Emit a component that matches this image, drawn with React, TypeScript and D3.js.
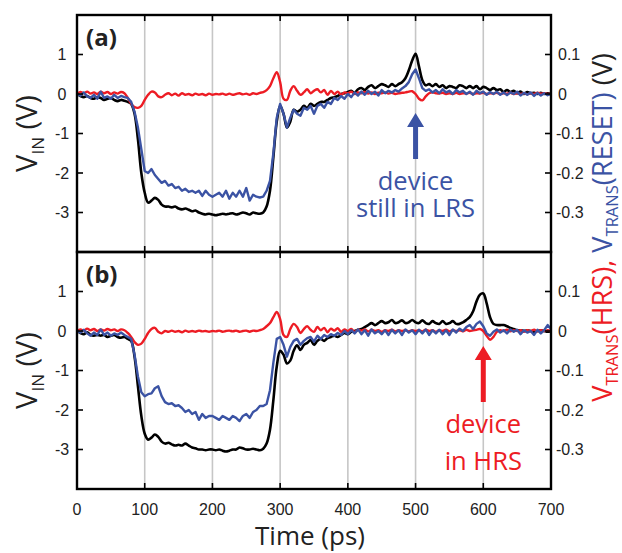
import React, { useLayoutEffect, useRef, useState } from "react";
import * as d3 from "d3";

// sampling grid (ps)
const TIME = d3.range(0, 705, 5);

// Panel (a): V_IN (V, left axis), V_TRANS(HRS) & V_TRANS(RESET) (V, right axis)
const A_VIN = [
  0, -0.05, -0.08, -0.05, -0.1, -0.12, -0.08, -0.1, -0.15, -0.12,
  -0.1, -0.15, -0.18, -0.15, -0.17, -0.2, -0.25, -0.5, -1.15, -2.0,
  -2.5, -2.75, -2.7, -2.63, -2.68, -2.8, -2.85, -2.85, -2.87, -2.85,
  -2.9, -2.92, -2.9, -2.93, -2.97, -2.95, -3.0, -3.03, -3.05, -3.03,
  -3.05, -3.07, -3.05, -3.03, -3.05, -3.03, -3.02, -3.05, -3.03, -3.0,
  -3.02, -3.05, -3.0, -3.02, -3.03, -3.0, -2.85, -2.45, -1.6, -0.7,
  -0.3, -0.5, -0.85, -0.7, -0.4, -0.45, -0.4, -0.3, -0.35, -0.25,
  -0.3, -0.25, -0.2, -0.2, -0.15, -0.1, -0.08, -0.05, 0.0, 0.02,
  0.05, 0.08, 0.03, 0.12, 0.15, 0.1, 0.18, 0.22, 0.15, 0.2,
  0.25, 0.22, 0.18, 0.25, 0.2, 0.25, 0.3, 0.4, 0.6, 0.85,
  1.02, 0.7, 0.35, 0.22, 0.25, 0.2, 0.25, 0.18, 0.22, 0.15,
  0.2, 0.18, 0.15, 0.22, 0.2, 0.15, 0.2, 0.15, 0.2, 0.12,
  0.18, 0.15, 0.1, 0.15, 0.1, 0.12, 0.05, 0.1, 0.05, 0.08,
  0.02, 0.06, 0.0, 0.05, 0.02, 0.03, 0.0, 0.03, 0.0, 0.02,
  0.0,
];
const A_HRS = [
  0, 0.005, 0.002, 0.006, 0.001, 0.004, 0, 0.006, 0.002, 0.005,
  0, 0.004, 0.001, 0.005, 0.002, -0.01, -0.025, -0.033, -0.035, -0.03,
  -0.015, -0.002, 0.006, 0.004, -0.006, -0.008, -0.002, 0.002, -0.003, 0.001,
  -0.004, 0.002, -0.002, 0, -0.003, 0.001, -0.002, 0, -0.003, 0.001,
  -0.002, 0, -0.001, 0.001, -0.002, 0.001, -0.002, 0, 0.002, -0.001,
  0.001, -0.002, 0.002, 0, 0.003, 0.005, 0.01, 0.02, 0.04, 0.055,
  0.03, -0.012, -0.015, 0.008, 0.02, 0.008, -0.002, 0.004, 0.012, 0.002,
  0.008, 0.012, 0.004, 0.01, -0.002, 0.008, 0, 0.006, -0.002, 0.004,
  0.002, 0.006, 0, 0.004, 0.002, 0.005, 0.001, 0.004, 0, 0.003,
  0.002, 0.004, 0.001, 0.003, 0, 0.002, 0.003, 0.004, 0.006, 0.007,
  0, -0.012, -0.016, -0.006, 0.002, 0.004, 0.002, 0.001, 0.003, 0,
  0.002, 0, 0.003, 0, 0.002, 0.001, 0.003, 0, 0.002, 0.001,
  0.003, 0, 0.002, 0.001, 0.003, 0, 0.002, 0.001, 0.003, 0,
  0.002, 0, 0.002, -0.001, 0.002, 0, 0.003, 0.001, 0.002, 0,
  0.001,
];
const A_RESET = [
  0, -0.004, 0.004, -0.006, -0.01, -0.002, -0.012, 0.006, -0.01, -0.006,
  -0.012, -0.002, -0.01, -0.005, -0.008, -0.01, -0.02, -0.045, -0.085, -0.14,
  -0.195, -0.2, -0.19, -0.205, -0.215, -0.225, -0.22, -0.232, -0.228, -0.238,
  -0.235, -0.245, -0.24, -0.248, -0.245, -0.25, -0.245, -0.258, -0.245, -0.255,
  -0.26, -0.255, -0.25, -0.26, -0.245, -0.265, -0.25, -0.26, -0.245, -0.26,
  -0.238, -0.27, -0.255, -0.26, -0.262, -0.26, -0.245, -0.22, -0.15, -0.06,
  -0.025, -0.05, -0.085, -0.06, -0.04, -0.05, -0.055, -0.035, -0.04, -0.03,
  -0.05, -0.03, -0.025, -0.035, -0.02, -0.025, -0.01, -0.015, -0.005, -0.012,
  0, -0.008, 0.004, -0.004, 0.006, -0.002, 0.008, 0, 0.006, -0.004,
  0.01, 0.002, 0.008, 0.004, 0.01, 0.006, 0.014, 0.02, 0.03, 0.05,
  0.062, 0.04, 0.015, 0.008, 0.012, 0.004, 0.01, 0.002, 0.012, 0.004,
  0.008, 0, 0.01, 0.004, 0.008, 0, 0.006, -0.002, 0.008, 0.002,
  0.006, -0.002, 0.005, 0, 0.006, -0.002, 0.004, -0.003, 0.004, 0,
  0.006, -0.004, 0.003, -0.002, 0.004, -0.005, 0.003, -0.004, 0.002, -0.003,
  0,
];

// Panel (b)
const B_VIN = [
  0, -0.05, -0.08, -0.03, -0.1, -0.12, -0.1, -0.12, -0.1, -0.15,
  -0.12, -0.1, -0.15, -0.17, -0.15, -0.2, -0.25, -0.65, -1.4, -2.15,
  -2.6, -2.75, -2.7, -2.62, -2.68, -2.8, -2.85, -2.83, -2.87, -2.9,
  -2.88, -2.9, -2.85, -2.9, -2.95, -2.97, -3.0, -3.0, -3.02, -3.0,
  -3.0, -3.02, -3.0, -3.03, -3.05, -3.03, -3.0, -3.0, -2.95, -2.97,
  -3.0, -3.0, -2.98, -3.0, -3.02, -2.98, -2.85, -2.5, -1.75, -0.9,
  -0.5, -0.6, -0.82, -0.75, -0.5, -0.36, -0.48, -0.35, -0.3, -0.23,
  -0.35, -0.25, -0.2, -0.25, -0.18, -0.15, -0.12, -0.15, -0.1, -0.05,
  -0.08, -0.02, 0, 0.03, 0.05, 0.1, 0.15, 0.2, 0.15, 0.2,
  0.25, 0.2, 0.22, 0.28, 0.2, 0.22, 0.27, 0.2, 0.22, 0.28,
  0.22, 0.2, 0.27, 0.2, 0.18, 0.25, 0.2, 0.18, 0.25, 0.18,
  0.2, 0.25, 0.18, 0.18, 0.22, 0.28, 0.35, 0.5, 0.75, 0.92,
  0.95, 0.7, 0.35, 0.18, 0.15, 0.15, 0.15, 0.12, 0.08, 0.05,
  0.02, 0.02, 0, 0.02, 0, -0.02, 0, 0.02, 0, -0.02,
  0,
];
const B_HRS = [
  0, 0.004, 0.001, 0.006, 0.002, 0.005, 0, 0.004, 0.001, 0.005,
  0.002, 0.004, 0, 0.004, 0.002, -0.005, -0.015, -0.028, -0.035, -0.032,
  -0.02, -0.005, 0.005, 0.008, -0.002, -0.006, 0, -0.002, 0.001, -0.002,
  0, -0.003, 0.001, -0.002, 0, -0.002, 0.001, -0.001, 0, -0.002,
  0, -0.001, 0.001, -0.002, 0, 0.001, -0.001, 0.001, -0.002, 0,
  0.001, -0.002, 0.001, 0, 0.002, 0.005, 0.012, 0.02, 0.035, 0.048,
  0.03, -0.01, -0.015, 0.005, 0.018, 0.01, -0.005, 0.005, 0.012, 0.003,
  -0.002, 0.01, 0.002, 0.008, -0.003, 0.006, 0.001, 0.007, -0.002, 0.004,
  0, 0.005, -0.002, 0.003, 0.001, 0.004, -0.001, 0.003, 0, 0.002,
  -0.002, 0.002, 0, 0.003, -0.001, 0.002, 0, 0.002, -0.001, 0.002,
  0, 0.002, -0.001, 0.003, 0, 0.002, -0.002, 0.002, 0, 0.003,
  -0.001, 0.002, 0, 0.002, -0.001, 0.003, 0, 0.002, 0.003, 0.005,
  0, -0.012, -0.022, -0.015, -0.002, 0.002, 0, 0.003, -0.001, 0.002,
  0, 0.002, -0.002, 0.002, 0, 0.003, -0.001, 0.002, 0, 0.002,
  0,
];
const B_RESET = [
  0, -0.004, 0.003, -0.006, -0.012, -0.004, -0.01, 0.004, -0.01, -0.004,
  -0.012, -0.006, -0.01, -0.004, -0.01, -0.015, -0.02, -0.06, -0.115, -0.155,
  -0.165, -0.16, -0.158, -0.145, -0.14, -0.165, -0.18, -0.185, -0.183, -0.19,
  -0.188, -0.195, -0.205, -0.2, -0.21, -0.205, -0.225, -0.21, -0.22, -0.215,
  -0.215, -0.22, -0.225, -0.215, -0.22, -0.225, -0.215, -0.22, -0.228, -0.215,
  -0.21, -0.22, -0.205, -0.2, -0.19, -0.19, -0.185, -0.15, -0.08, -0.02,
  -0.015, -0.035, -0.065, -0.04, -0.025, -0.02, -0.035, -0.025, -0.018, -0.015,
  -0.027, -0.012, -0.02, -0.01, -0.015, -0.008, -0.012, -0.005, -0.01, 0,
  -0.008, 0.002, -0.006, 0.004, -0.008, 0.002, -0.012, 0.004, -0.006, 0,
  -0.008, 0.002, -0.01, 0.003, -0.006, 0.002, -0.01, 0.004, -0.004, 0.002,
  -0.008, 0.003, -0.006, 0.004, -0.01, 0.002, -0.006, 0.003, -0.008, 0.002,
  -0.01, 0.004, -0.004, 0.006, 0, 0.01, 0.015, 0.005, 0.018, 0.024,
  0.012, -0.006, -0.012, -0.002, 0.004, -0.004, 0.002, -0.006, 0.004, -0.002,
  0.003, -0.008, 0.002, -0.004, 0, -0.01, 0.003, -0.006, 0.002, 0.015,
  0.005,
];

const X_TICKS = [0, 100, 200, 300, 400, 500, 600, 700];
const GRID_X = [100, 200, 300, 400, 500, 600];
const YL_TICKS = [1, 0, -1, -2, -3];
const YR_TICKS = [0.1, 0, -0.1, -0.2, -0.3];

const RED = "#ed1c24";
const BLUE = "#3b53a4";
const TICK_FONT = "'Liberation Sans', Arial, sans-serif";
const LABEL_FONT = "'Open Sans', 'Noto Sans', sans-serif";

const PANELS = [
  { id: "(a)", top: 15, bottom: 252, vin: A_VIN, hrs: A_HRS, reset: A_RESET },
  { id: "(b)", top: 252, bottom: 489, vin: B_VIN, hrs: B_HRS, reset: B_RESET },
];

const x = d3.scaleLinear().domain([0, 700]).range([77, 551]);

// Text squeezed along its reading direction to a target length (narrow Myriad-like look)
function FitText({ target, transform, children, ...rest }: any) {
  const ref = useRef<SVGTextElement>(null);
  const [sx, setSx] = useState(1);
  useLayoutEffect(() => {
    if (ref.current) {
      const len = ref.current.getComputedTextLength();
      if (len > 0) setSx(Math.min(1, target / len));
    }
  }, [target]);
  return (
    <text ref={ref} transform={`${transform} scale(${sx},1)`} {...rest}>
      {children}
    </text>
  );
}

function Panel({ p, showX }: any) {
  const yL = d3.scaleLinear().domain([-4, 2]).range([p.bottom, p.top]);
  const yR = d3.scaleLinear().domain([-0.4, 0.2]).range([p.bottom, p.top]);
  const lineL = d3
    .line<number>()
    .x((_, i) => x(TIME[i]))
    .y((d) => yL(d))
    .curve(d3.curveCatmullRom);
  const lineRs = d3
    .line<number>()
    .x((_, i) => x(TIME[i]))
    .y((d) => yR(d))
    .curve(d3.curveCatmullRom);
  const lineR = d3
    .line<number>()
    .x((_, i) => x(TIME[i]))
    .y((d) => yR(d));
  const tl = 6;
  const mid = (p.top + p.bottom) / 2;
  return (
    <g>
      {GRID_X.map((t) => (
        <line key={t} x1={x(t)} x2={x(t)} y1={p.top} y2={p.bottom} stroke="#c6c6c6" strokeWidth={1.6} />
      ))}
      <path d={lineL(p.vin) || ""} fill="none" stroke="#000" strokeWidth={2.6} strokeLinejoin="round" />
      <path d={lineRs(p.hrs) || ""} fill="none" stroke={RED} strokeWidth={2.4} strokeLinejoin="round" />
      <path d={lineR(p.reset) || ""} fill="none" stroke={BLUE} strokeWidth={2.4} strokeLinejoin="round" />
      <rect x={77} y={p.top} width={551 - 77} height={p.bottom - p.top} fill="none" stroke="#000" strokeWidth={2.4} />
      {X_TICKS.map((t) => (
        <g key={t}>
          <line x1={x(t)} x2={x(t)} y1={p.top} y2={p.top + tl} stroke="#000" strokeWidth={1.6} />
          <line x1={x(t)} x2={x(t)} y1={p.bottom} y2={p.bottom - tl} stroke="#000" strokeWidth={1.6} />
          {showX && (
            <text x={x(t)} y={515} textAnchor="middle" fontFamily={TICK_FONT} fontSize={16} fill="#222">
              {t}
            </text>
          )}
        </g>
      ))}
      {YL_TICKS.map((v) => (
        <g key={v}>
          <line x1={77} x2={77 + tl} y1={yL(v)} y2={yL(v)} stroke="#000" strokeWidth={1.6} />
          <text x={62} y={yL(v) + 5.5} textAnchor="middle" fontFamily={TICK_FONT} fontSize={16} fill="#222">
            {v}
          </text>
        </g>
      ))}
      {YR_TICKS.map((v) => (
        <g key={v}>
          <line x1={551} x2={551 - tl} y1={yR(v)} y2={yR(v)} stroke="#000" strokeWidth={1.6} />
          <text x={v < 0 ? 556 : 558} y={yR(v) + 5.5} textAnchor="start" fontFamily={TICK_FONT} fontSize={16} fill="#222">
            {v}
          </text>
        </g>
      ))}
      <text x={86} y={p.top + 31} fontFamily={LABEL_FONT} fontWeight={700} fontSize={24} fill="#222">
        {p.id}
      </text>
      <FitText
        target={78}
        transform={`translate(37,${mid}) rotate(-90)`}
        textAnchor="middle"
        fontFamily={LABEL_FONT}
        fontSize={29}
        fill="#222"
      >
        V<tspan fontSize={17} dy={7}>IN</tspan>
        <tspan dy={-7}> (V)</tspan>
      </FitText>
    </g>
  );
}

function Arrow({ cx, tip, base, end, color }: any) {
  const hw = 8.5;
  const sw = 2.5;
  const d = `M${cx},${tip} L${cx + hw},${base} L${cx + sw},${base} L${cx + sw},${end} L${cx - sw},${end} L${cx - sw},${base} L${cx - hw},${base} Z`;
  return <path d={d} fill={color} />;
}

export default function App() {
  return (
    <svg width={622} height={553} style={{ position: "absolute", left: 0, top: 0, background: "#fff" }}>
      <rect width={622} height={553} fill="#fff" />
      {PANELS.map((p, i) => (
        <Panel key={p.id} p={p} showX={i === 1} />
      ))}
      <FitText
        target={115}
        transform="translate(310,545)"
        textAnchor="middle"
        fontFamily={LABEL_FONT}
        fontSize={26}
        fill="#222"
      >
        Time (ps)
      </FitText>
      <Arrow cx={x(500)} tip={113} base={127} end={159} color={BLUE} />
      <text x={x(500)} y={190} textAnchor="middle" fontFamily={LABEL_FONT} fontSize={25.5} fill={BLUE}>
        device
      </text>
      <text x={x(500)} y={217} textAnchor="middle" fontFamily={LABEL_FONT} fontSize={25.5} fill={BLUE}>
        still in LRS
      </text>
      <Arrow cx={x(600)} tip={346} base={360} end={402} color={RED} />
      <text x={x(600)} y={433} textAnchor="middle" fontFamily={LABEL_FONT} fontSize={25.5} fill={RED}>
        device
      </text>
      <text x={x(600)} y={470} textAnchor="middle" fontFamily={LABEL_FONT} fontSize={25.5} fill={RED}>
        in HRS
      </text>
      <FitText
        target={349}
        transform="translate(612,227.5) rotate(-90)"
        textAnchor="middle"
        fontFamily={LABEL_FONT}
        fontSize={28}
      >
        <tspan fill={RED}>V</tspan>
        <tspan fill={RED} fontSize={17} dy={6}>TRANS</tspan>
        <tspan fill={RED} dy={-6}>(HRS), </tspan>
        <tspan fill={BLUE}>V</tspan>
        <tspan fill={BLUE} fontSize={17} dy={6}>TRANS</tspan>
        <tspan fill={BLUE} dy={-6}>(RESET)</tspan>
        <tspan fill="#222"> (V)</tspan>
      </FitText>
    </svg>
  );
}
